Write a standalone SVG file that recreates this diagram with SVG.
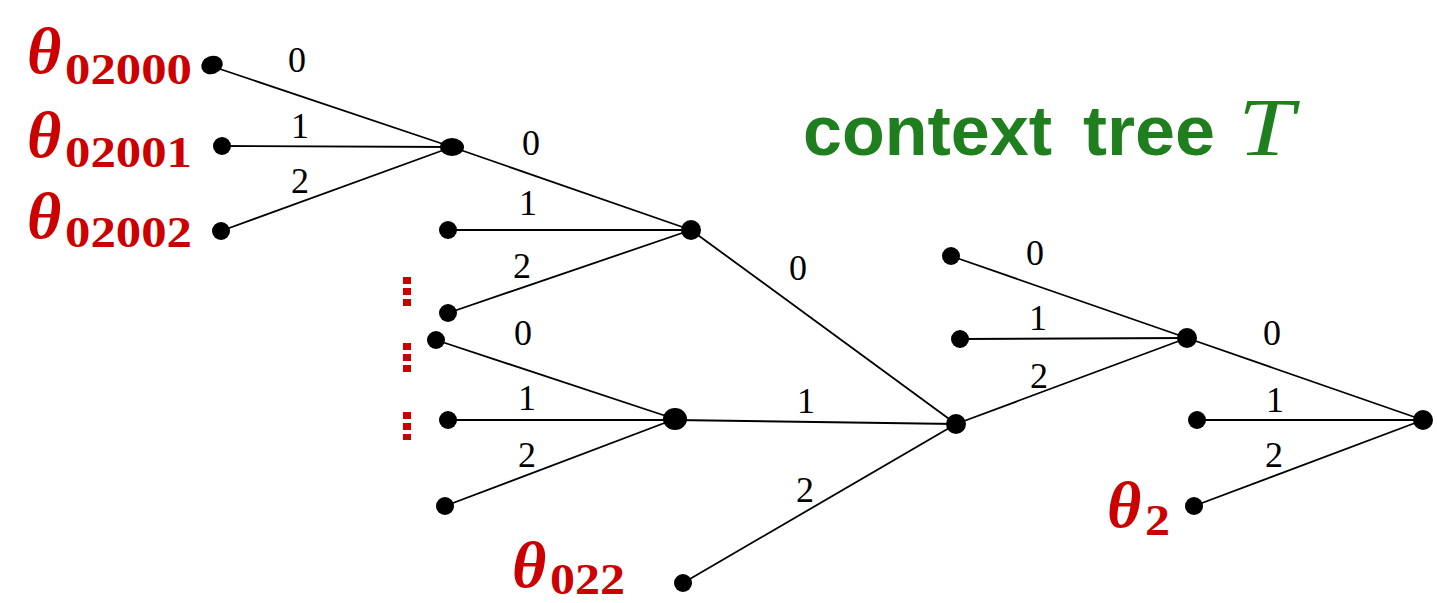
<svg xmlns="http://www.w3.org/2000/svg" width="1437" height="603" viewBox="0 0 1437 603">
<style>
.e{stroke:#000;stroke-width:1.8;fill:none}
.d{fill:#000}
.l{font-family:"Liberation Serif","DejaVu Serif",serif;font-size:36px;fill:#000;text-anchor:middle}
.th{font-family:"Liberation Serif","DejaVu Serif",serif;font-weight:bold;font-style:italic;fill:#cc0000;font-size:66px}
.sb{font-family:"Liberation Serif","DejaVu Serif",serif;font-weight:bold;fill:#cc0000;font-size:44px}
.vd{stroke:#cc0000;stroke-width:8;stroke-dasharray:7 4;fill:none}
.g{font-family:"Liberation Sans",Arial,sans-serif;font-weight:bold;fill:#1f7f1f;font-size:70px}
.gT{font-family:"Liberation Serif","DejaVu Serif",serif;font-style:italic;fill:#1f7f1f;font-size:82px}
</style>
<rect width="1437" height="603" fill="#fff"/>
<g id="connectors">
<line class="e" x1="211" y1="66" x2="452" y2="147"/>
<line class="e" x1="222" y1="146" x2="452" y2="147"/>
<line class="e" x1="221" y1="231" x2="452" y2="147"/>
<line class="e" x1="452" y1="147" x2="691" y2="230"/>
<line class="e" x1="448" y1="230" x2="691" y2="230"/>
<line class="e" x1="448" y1="313" x2="691" y2="230"/>
<line class="e" x1="691" y1="230" x2="956" y2="424"/>
<line class="e" x1="436" y1="340" x2="675" y2="419"/>
<line class="e" x1="448" y1="420" x2="675" y2="420"/>
<line class="e" x1="445" y1="506" x2="675" y2="419"/>
<line class="e" x1="675" y1="420" x2="956" y2="424"/>
<line class="e" x1="683" y1="583" x2="956" y2="424"/>
<line class="e" x1="956" y1="424" x2="1187" y2="338"/>
<line class="e" x1="951" y1="256" x2="1187" y2="338"/>
<line class="e" x1="960" y1="339" x2="1187" y2="338"/>
<line class="e" x1="1187" y1="338" x2="1423" y2="420"/>
<line class="e" x1="1197" y1="420" x2="1423" y2="420"/>
<line class="e" x1="1194" y1="506" x2="1423" y2="420"/>
</g>
<g id="edge-labels">
<text class="l" x="297" y="72">0</text>
<text class="l" x="300" y="138">1</text>
<text class="l" x="300" y="193">2</text>
<text class="l" x="531" y="155">0</text>
<text class="l" x="528" y="215">1</text>
<text class="l" x="522" y="278">2</text>
<text class="l" x="523" y="345">0</text>
<text class="l" x="527" y="410">1</text>
<text class="l" x="527" y="467">2</text>
<text class="l" x="798" y="280">0</text>
<text class="l" x="806" y="413">1</text>
<text class="l" x="805" y="502">2</text>
<text class="l" x="1035" y="265">0</text>
<text class="l" x="1038" y="330">1</text>
<text class="l" x="1039" y="388">2</text>
<text class="l" x="1272" y="345">0</text>
<text class="l" x="1275" y="412">1</text>
<text class="l" x="1274" y="467">2</text>
</g>
<g id="n02000"><ellipse class="d" cx="212" cy="65" rx="11" ry="9" transform="rotate(-20 212 65)"/></g>
<g id="n02001"><circle class="d" cx="222" cy="146" r="9"/></g>
<g id="n02002"><circle class="d" cx="221" cy="231" r="9"/></g>
<g id="n0200"><ellipse class="d" cx="452" cy="147" rx="12" ry="9"/></g>
<g id="n0201"><circle class="d" cx="448" cy="230" r="9"/></g>
<g id="n0202"><circle class="d" cx="448" cy="313" r="9"/></g>
<g id="n020"><circle class="d" cx="691" cy="230" r="10"/></g>
<g id="n0210"><circle class="d" cx="436" cy="340" r="9"/></g>
<g id="n0211"><circle class="d" cx="448" cy="420" r="9"/></g>
<g id="n0212"><circle class="d" cx="445" cy="506" r="9"/></g>
<g id="n021"><ellipse class="d" cx="675" cy="419" rx="12" ry="11"/></g>
<g id="n022"><circle class="d" cx="683" cy="583" r="9"/></g>
<g id="n02"><circle class="d" cx="956" cy="424" r="10"/></g>
<g id="n00"><circle class="d" cx="951" cy="256" r="9"/></g>
<g id="n01"><circle class="d" cx="960" cy="339" r="9"/></g>
<g id="n0"><circle class="d" cx="1187" cy="338" r="10"/></g>
<g id="n1"><circle class="d" cx="1197" cy="420" r="9"/></g>
<g id="n2"><circle class="d" cx="1194" cy="506" r="9"/></g>
<g id="root"><circle class="d" cx="1423" cy="420" r="10"/></g>
<g id="red-labels">
<text class="th" x="27" y="73">θ</text>
<text class="sb" x="65" y="84" textLength="127" lengthAdjust="spacingAndGlyphs">02000</text>
<text class="th" x="27" y="157">θ</text>
<text class="sb" x="65" y="167" textLength="127" lengthAdjust="spacingAndGlyphs">02001</text>
<text class="th" x="27" y="238">θ</text>
<text class="sb" x="65" y="247" textLength="127" lengthAdjust="spacingAndGlyphs">02002</text>
<text class="th" x="512" y="587">θ</text>
<text class="sb" x="550" y="594" textLength="75" lengthAdjust="spacingAndGlyphs">022</text>
<text class="th" x="1107" y="527">θ</text>
<text class="sb" x="1145" y="535" textLength="25" lengthAdjust="spacingAndGlyphs">2</text>
<line class="vd" x1="407" y1="277" x2="407" y2="306"/>
<line class="vd" x1="407" y1="343" x2="407" y2="373"/>
<line class="vd" x1="407" y1="412" x2="407" y2="440"/>
</g>
<g id="title">
<text class="g" x="803" y="155" textLength="249" lengthAdjust="spacingAndGlyphs">context</text>
<text class="g" x="1083" y="155" textLength="132" lengthAdjust="spacingAndGlyphs">tree</text>
<text class="gT" x="1238" y="155" textLength="56" lengthAdjust="spacingAndGlyphs">T</text>
</g>
</svg>
